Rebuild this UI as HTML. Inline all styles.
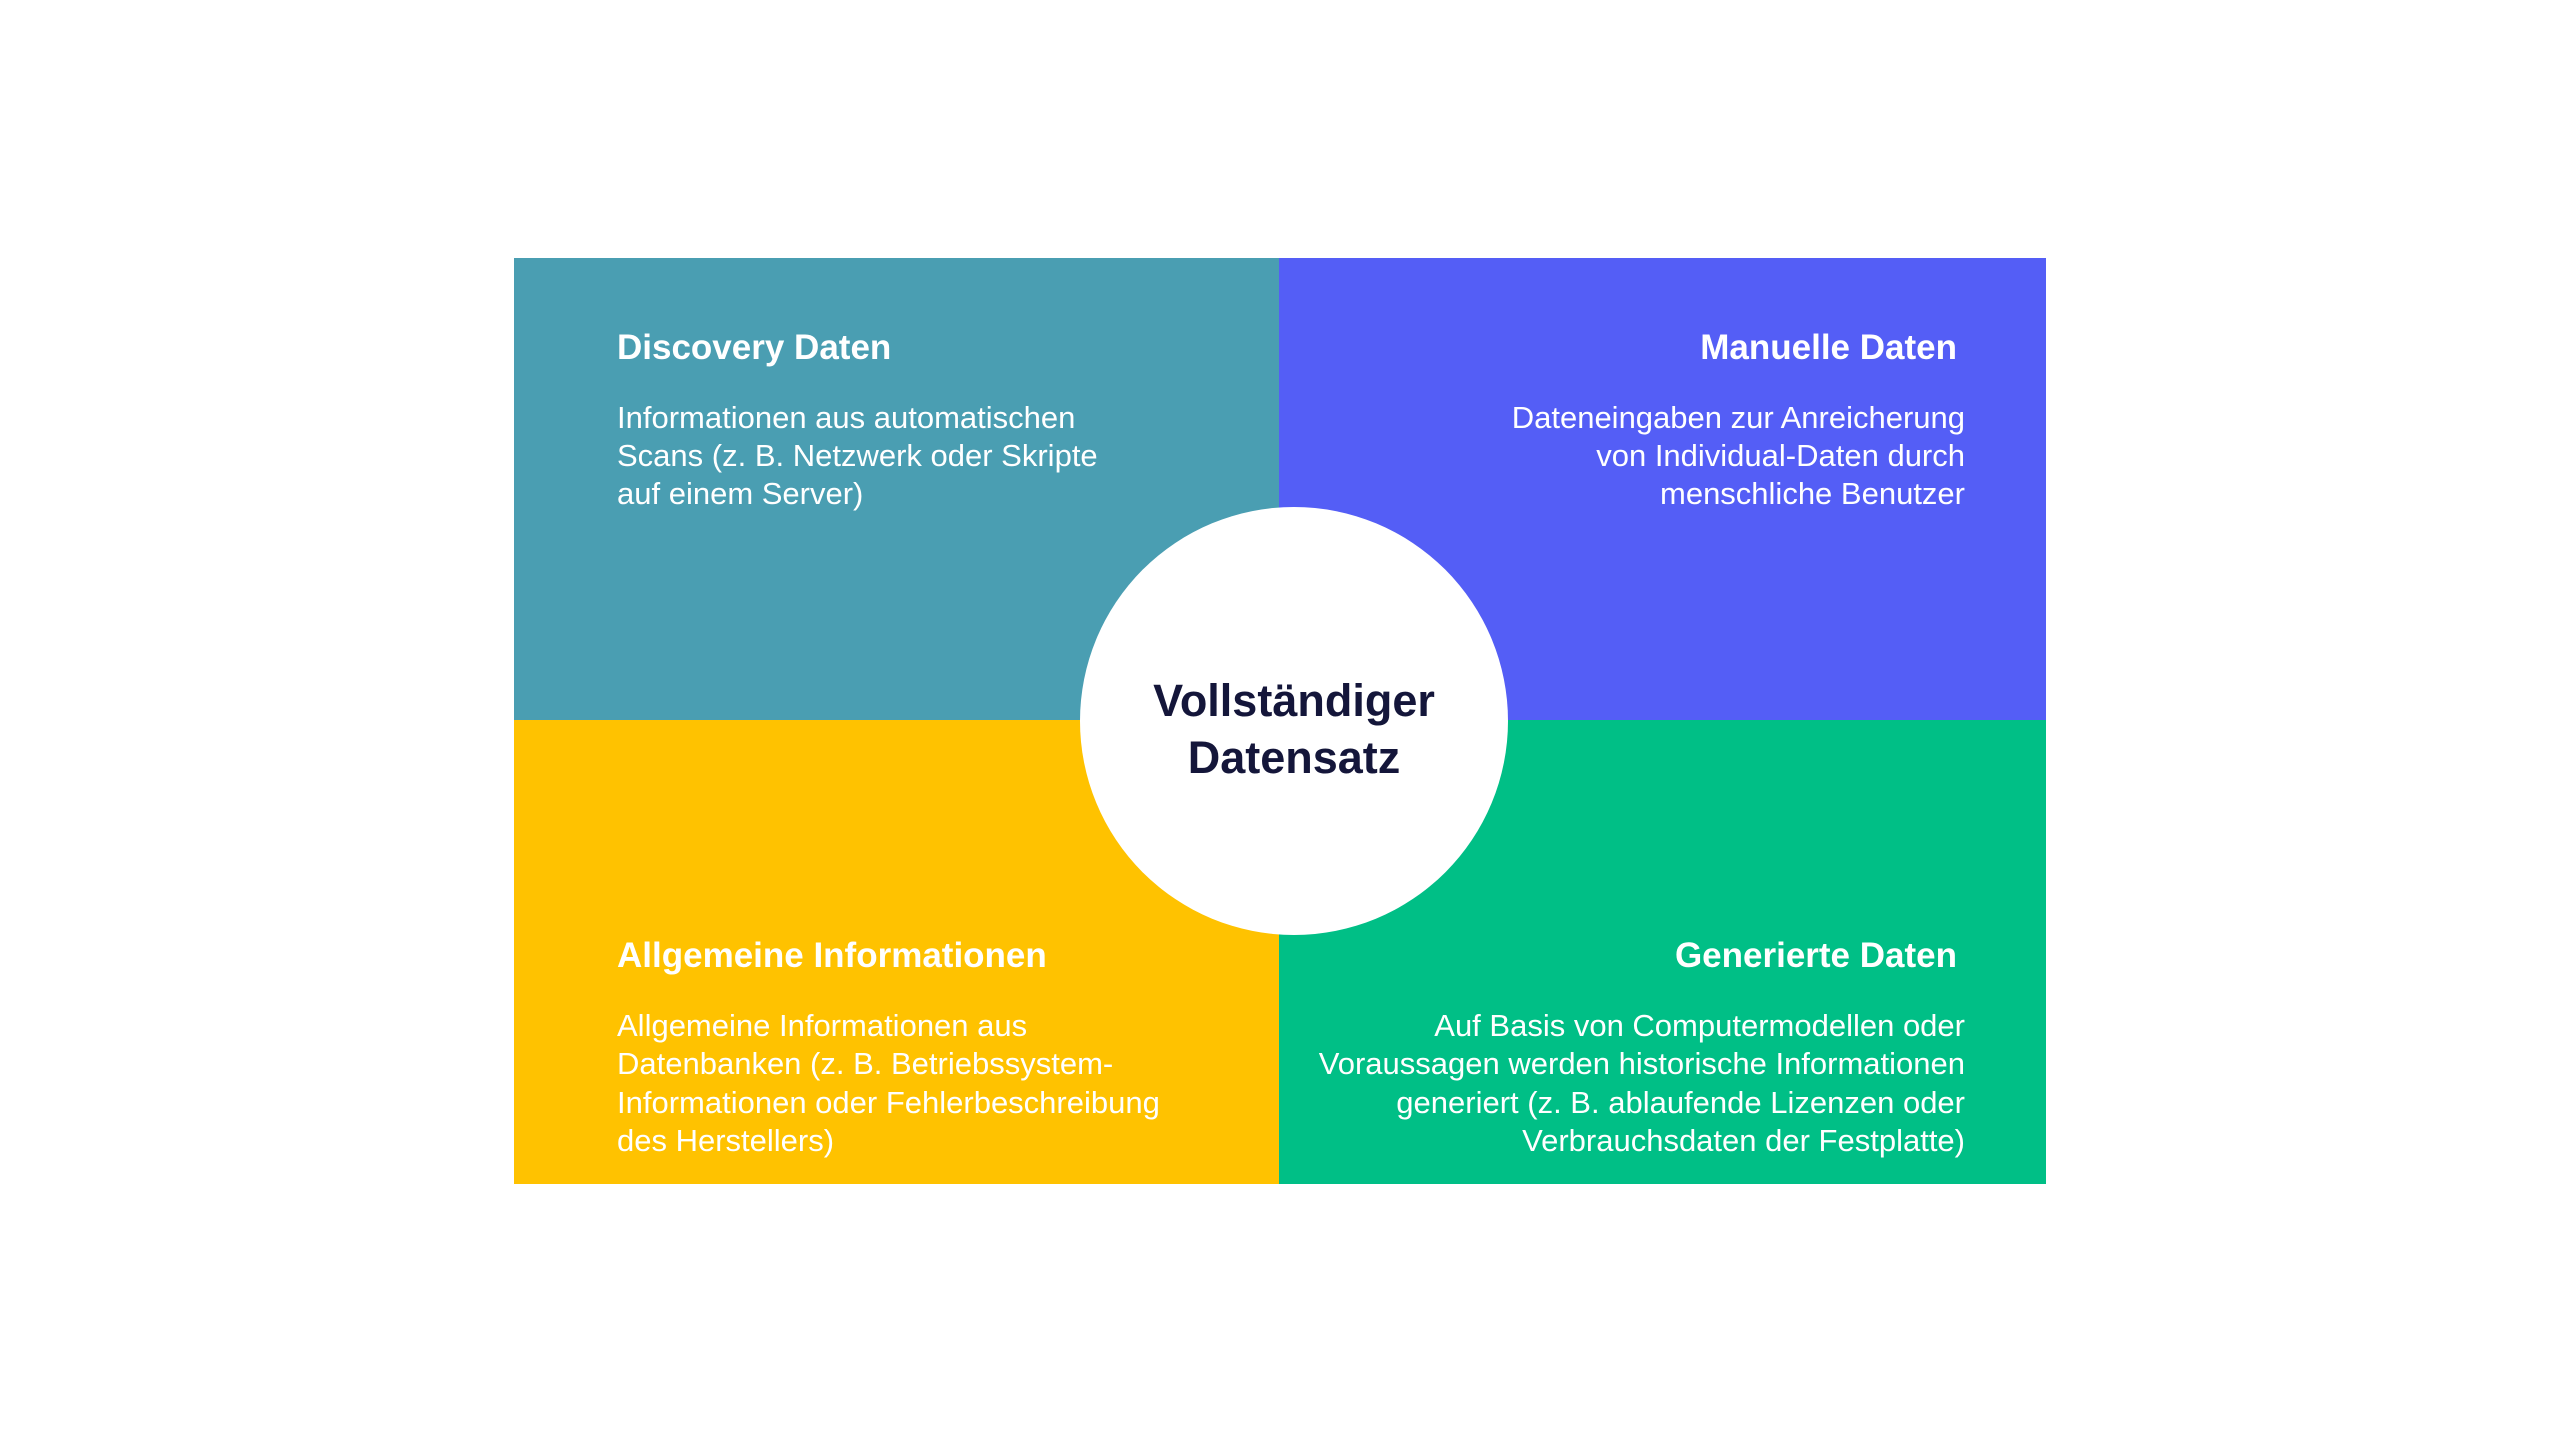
<!DOCTYPE html>
<html><head><meta charset="utf-8"><style>html,body{margin:0;padding:0;background:#fff;}svg{display:block}</style></head>
<body>
<svg width="2559" height="1440" viewBox="0 0 2559 1440" xmlns="http://www.w3.org/2000/svg">
<rect x="0" y="0" width="2559" height="1440" fill="#fff"/>
<rect x="514" y="258" width="766" height="463" fill="#4A9EB2"/>
<rect x="1279" y="258" width="767" height="463" fill="#545EF6"/>
<rect x="514" y="720" width="766" height="464" fill="#FFC200"/>
<rect x="1279" y="720" width="767" height="464" fill="#00BF86"/>
<circle cx="1294" cy="721" r="214" fill="#fff"/>
<g font-family="Liberation Sans, sans-serif" fill="#fff">
<g font-size="35" font-weight="bold">
<text x="617" y="359">Discovery Daten</text>
<text x="1957" y="359" text-anchor="end">Manuelle Daten</text>
<text x="617" y="967">Allgemeine Informationen</text>
<text x="1957" y="967" text-anchor="end">Generierte Daten</text>
</g>
<g font-size="31">
<text x="617" y="428">Informationen aus automatischen</text>
<text x="617" y="466">Scans (z. B. Netzwerk oder Skripte</text>
<text x="617" y="504">auf einem Server)</text>
<g text-anchor="end">
<text x="1965" y="428">Dateneingaben zur Anreicherung</text>
<text x="1965" y="466">von Individual-Daten durch</text>
<text x="1965" y="504">menschliche Benutzer</text>
</g>
<text x="617" y="1036">Allgemeine Informationen aus</text>
<text x="617" y="1074">Datenbanken (z. B. Betriebssystem-</text>
<text x="617" y="1113">Informationen oder Fehlerbeschreibung</text>
<text x="617" y="1151">des Herstellers)</text>
<g text-anchor="end">
<text x="1965" y="1036">Auf Basis von Computermodellen oder</text>
<text x="1965" y="1074">Voraussagen werden historische Informationen</text>
<text x="1965" y="1113">generiert (z. B. ablaufende Lizenzen oder</text>
<text x="1965" y="1151">Verbrauchsdaten der Festplatte)</text>
</g>
</g>
</g>
<g font-family="Liberation Sans, sans-serif" font-weight="bold" font-size="45" fill="#14163A" text-anchor="middle">
<text x="1294" y="716">Vollständiger</text>
<text x="1294" y="773">Datensatz</text>
</g>
</svg>
</body></html>
